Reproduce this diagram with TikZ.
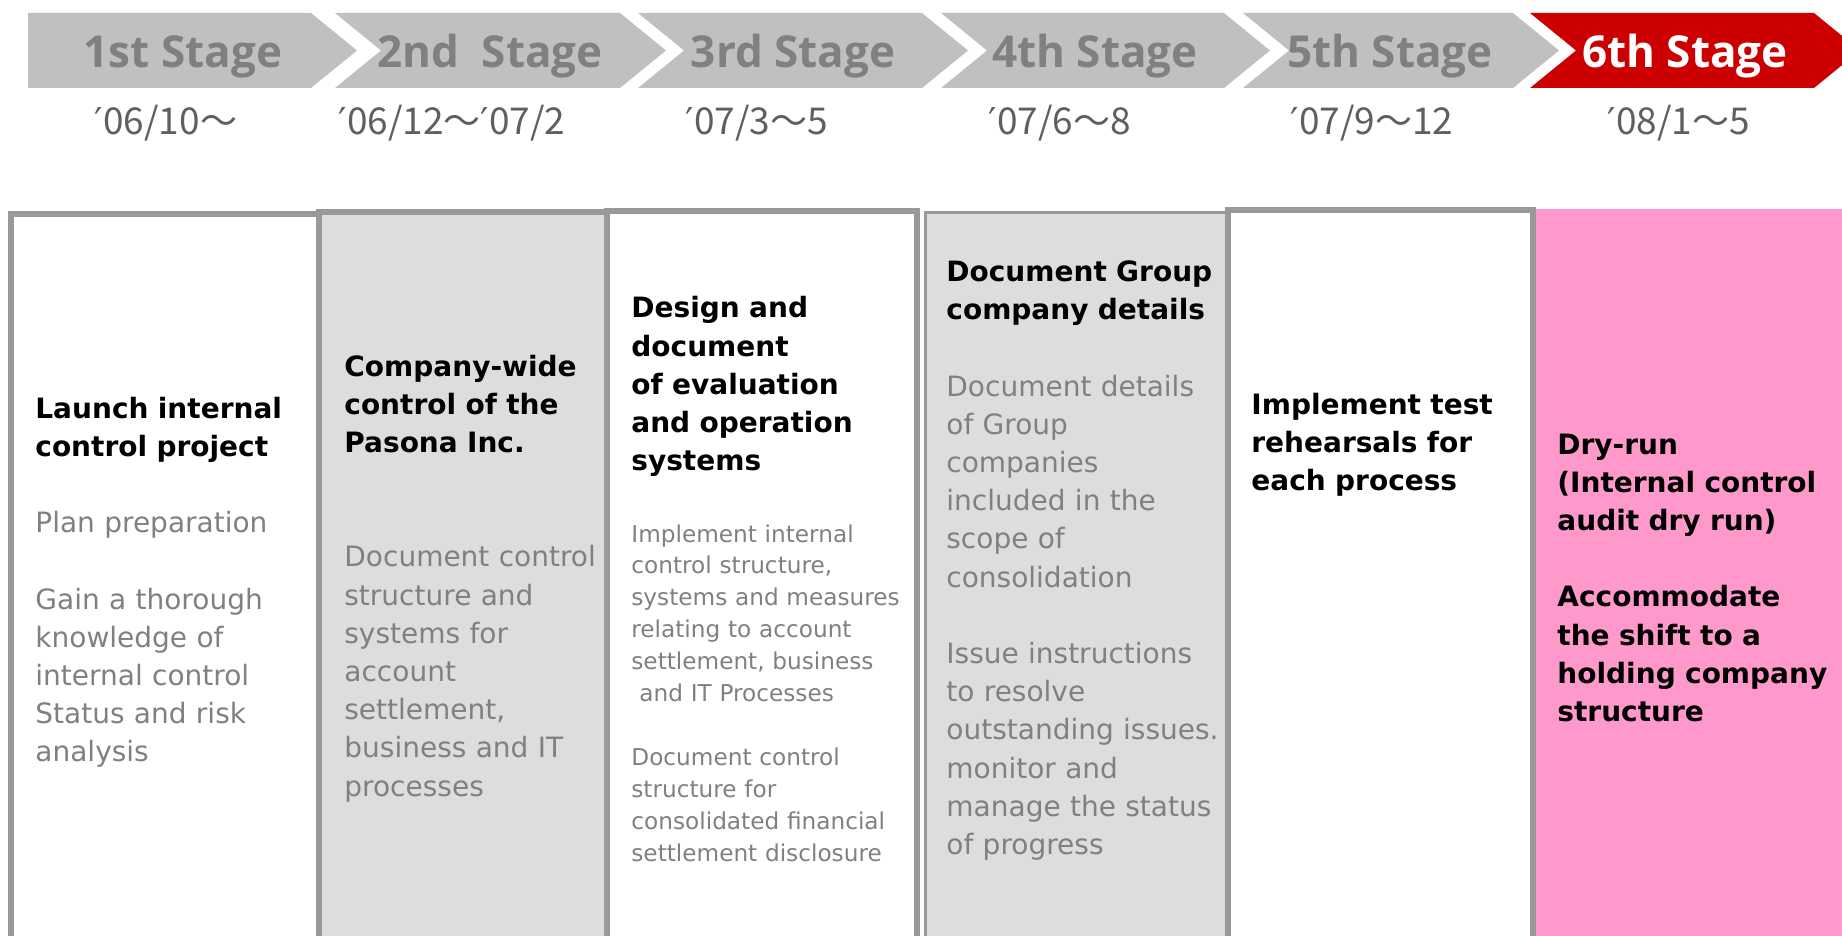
\documentclass[tikz,border=0pt]{standalone}
\usepackage{fontspec}
\usepackage{tikz}

\setmainfont{DejaVu Sans}
\newfontfamily\stagefont{Open Sans}
\newfontfamily\datefont{Noto Sans CJK JP}

\definecolor{stagegray}{HTML}{C0C0C0}
\definecolor{stagetext}{HTML}{808080}
\definecolor{stagered}{HTML}{CC0000}
\definecolor{dategray}{HTML}{5F5F5F}
\definecolor{paneledge}{HTML}{999999}
\definecolor{panelfill}{HTML}{DDDDDD}
\definecolor{panelpink}{HTML}{FF99CC}
\definecolor{notegray}{HTML}{808080}

\newcommand{\tick}{{\rmfamily ′}}

\begin{document}
\begin{tikzpicture}[%
    x=0.5pt,
    y=-0.5pt,
    stage/.style={fill=stagegray},
    stagenow/.style={fill=stagered},
    stagename/.style={anchor=base, inner sep=0pt, text=stagetext,
        font=\stagefont\bfseries\fontsize{22}{26}\selectfont},
    period/.style={anchor=base, inner sep=0pt, text=dategray,
        font=\datefont\fontsize{18.5}{22}\selectfont},
    panel/.style={draw=paneledge, line width=2.8pt},
    note/.style={anchor=base west, inner sep=0pt, align=left,
        text width=150pt, font=\fontsize{14}{19.1}\selectfont},
    smallnote/.style={note, font=\fontsize{11.6}{15.95}\selectfont}
    ]

    \useasboundingbox (0,0) rectangle (1842,936);
    \clip (0,0) rectangle (1842,936);

    % stage arrows
    \fill[stage] (28,13) -- (311,13) -- (357,50.5) -- (311,88) -- (28,88) -- cycle;
    \fill[stage] (335,13) -- (620,13) -- (666,50.5) -- (620,88) -- (335,88) -- (381,50.5) -- cycle;
    \fill[stage] (638,13) -- (922,13) -- (968,50.5) -- (922,88) -- (638,88) -- (684,50.5) -- cycle;
    \fill[stage] (941,13) -- (1224,13) -- (1270,50.5) -- (1224,88) -- (941,88) -- (987,50.5) -- cycle;
    \fill[stage] (1243,13) -- (1513,13) -- (1559,50.5) -- (1513,88) -- (1243,88) -- (1289,50.5) -- cycle;
    \fill[stagenow] (1530,13) -- (1814,13) -- (1860,50.5) -- (1814,88) -- (1530,88) -- (1576,50.5) -- cycle;

    \node[stagename] (s1) at (183,68) {1st Stage};
    \node[stagename] (s2) at (490,68) {2nd\ \ Stage};
    \node[stagename] (s3) at (793,68) {3rd Stage};
    \node[stagename] (s4) at (1095,68) {4th Stage};
    \node[stagename] (s5) at (1390,68) {5th Stage};
    \node[stagename, text=white] (s6) at (1685,68) {6th Stage};

    \node[period] (p1) at (166,135) {\tick06/10～};
    \node[period] (p2) at (452,135) {\tick06/12～\tick07/2};
    \node[period] (p3) at (757,135) {\tick07/3～5};
    \node[period] (p4) at (1060,135) {\tick07/6～8};
    \node[period] (p5) at (1372,135) {\tick07/9～12};
    \node[period] (p6) at (1679,135) {\tick08/1～5};

    % panels
    \fill[panelfill] (319,212) rectangle (607,960);
    \fill[panelfill] (925,213) rectangle (1227,960);
    \fill[panelpink] (1536,209) rectangle (1850,960);
    \draw[panel] (11,214) rectangle (319,960);
    \draw[panel] (319,212) rectangle (607,960);
    \draw[panel] (607,211) rectangle (917,960);
    \draw[panel, line width=1.5pt] (925,213) rectangle (1227,960);
    \draw[panel] (1228,210) rectangle (1533,960);

    \node[note] (b1) at (35,418) {\textbf{Launch internal\\control project}\\[\baselineskip]
        \color{notegray}Plan preparation\\[\baselineskip]
        Gain a thorough\\knowledge of\\internal control\\Status and risk\\analysis};
    \node[note] (b2) at (344,376) {\textbf{Company-wide\\control of the\\Pasona Inc.}\\[2\baselineskip]
        \color{notegray}Document control\\structure and\\systems for\\account\\settlement,\\business and IT\\processes};
    \node[note] (b3) at (631,318) {\bfseries Design and\\document\\of evaluation\\and operation\\systems};
    \node[smallnote] (b3x) at (631,542) {\color{notegray}Implement internal\\control structure,\\systems and measures\\relating to account\\settlement, business\\\hspace*{4pt}and IT Processes\\[\baselineskip]
        Document control\\structure for\\consolidated financial\\settlement disclosure};
    \node[note] (b4) at (946,281.5) {\textbf{Document Group\\company details}\\[\baselineskip]
        \color{notegray}Document details\\of Group\\companies\\included in the\\scope of\\consolidation\\[\baselineskip]
        Issue instructions\\to resolve\\outstanding issues.\\monitor and\\manage the status\\of progress};
    \node[note] (b5) at (1251,414) {\bfseries Implement test\\rehearsals for\\each process};
    \node[note] (b6) at (1557,454) {\bfseries Dry-run\\(Internal control\\audit dry run)\\[\baselineskip]
        Accommodate\\the shift to a\\holding company\\structure};

\end{tikzpicture}
\end{document}
